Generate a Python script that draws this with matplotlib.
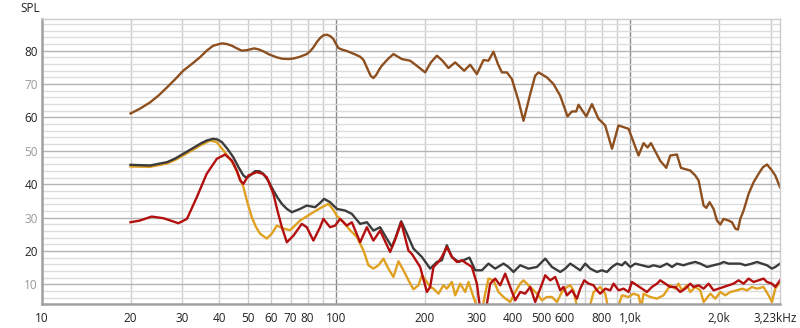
import matplotlib.pyplot as plt
import numpy as np

# --- data (frequency in Hz, level in dB SPL) ---
brown_f = [20.0, 21.5, 23.3, 25.0, 26.6, 28.4, 30.2, 32.3, 34.5, 36.3, 38.2, 40.9, 42.5,
           44.2, 46.0, 47.8, 50.0, 52.6, 54.5, 56.6, 59.5, 62.9, 65.5, 68.8, 72.0, 75.4,
           79.5, 81.5, 83.7, 86.0, 88.2, 90.5, 93.0, 95.4, 97.9, 99.5, 101.8, 105.0,
           108.0, 111.6, 116.0, 120.7, 124.0, 127.2, 131.0, 133.9, 137.0, 140.0, 143.0,
           150.0, 156.6, 167.3, 178.5, 188.0, 200.8, 210.0, 220.1, 230.0, 241.0, 254.0,
           272.5, 285.6, 301.0, 317.0, 329.6, 342.8, 355.0, 366.2, 380.7, 396.0, 417.0,
           433.6, 457.0, 475.0, 487.7, 520.9, 548.5, 578.0, 612.0, 633.5, 655.0, 667.0,
           709.0, 741.0, 780.0, 822.0, 867.0, 912.0, 987.0, 1067, 1110, 1145, 1176, 1265,
           1326, 1368, 1441, 1487, 1540, 1600, 1664, 1708, 1776, 1814, 1861, 1920, 1972,
           2024, 2077, 2160, 2218, 2276, 2325, 2367, 2429, 2526, 2627, 2731, 2827, 2917,
           3033, 3113, 3230]
brown_v = [61.2, 62.6, 64.5, 66.7, 69.0, 71.5, 74.0, 76.0, 78.1, 80.0, 81.5, 82.2, 82.0,
           81.5, 80.7, 80.0, 80.2, 80.7, 80.4, 79.8, 78.8, 78.0, 77.6, 77.5, 77.7, 78.2,
           79.0, 79.8, 81.0, 82.6, 83.8, 84.6, 84.8, 84.4, 83.5, 82.3, 80.8, 80.3,
           80.0, 79.5, 78.9, 78.2, 77.2, 75.0, 72.5, 71.8, 72.8, 74.3, 75.5,
           77.5, 79.0, 77.5, 77.0, 75.5, 73.5, 76.5, 78.5, 77.0, 74.8, 76.5,
           74.0, 75.8, 73.0, 77.2, 77.0, 79.7, 76.0, 73.5, 73.5, 71.5, 65.0,
           59.0, 67.0, 72.5, 73.5, 72.0, 70.0, 66.5, 60.3, 61.8, 61.8, 63.8,
           60.3, 64.0, 59.6, 57.6, 50.6, 57.6, 56.6, 48.6, 52.3, 51.0, 52.3, 47.0,
           44.9, 48.6, 48.9, 44.9, 44.5, 44.1, 42.6, 41.1, 33.6, 32.9, 34.6, 32.6, 29.1,
           27.9, 29.6, 29.1, 28.6, 26.7, 26.4, 29.6, 32.1, 37.1, 40.6, 43.1, 45.1, 45.9,
           44.1, 42.6, 39.1]

gray_f = [20.0, 23.3, 26.6, 28.4, 30.2, 32.3, 34.5, 36.3, 38.2, 39.5, 40.9, 42.7, 44.7,
          46.5, 48.4, 49.7, 51.3, 53.0, 54.8, 56.6, 58.8, 61.2, 63.2, 65.4, 68.0, 70.7,
          75.4, 79.5, 84.8, 88.0, 91.0, 95.4, 100.6, 107.3, 113.1, 120.7, 127.2,
          133.9, 141.1, 148.7, 154.7, 160.0, 166.4, 174.0, 183.2, 195.7, 208.8, 220.1,
          228.8, 237.9, 247.5, 260.6, 271.0, 284.0, 297.0, 313.0, 329.6, 347.4, 370.7,
          385.6, 401.0, 422.6, 450.9, 481.7, 514.0, 541.7, 578.1, 601.2, 625.2, 650.1,
          676.1, 703.1, 731.2, 750.4, 770.5, 801.3, 833.3, 866.7, 901.3, 937.3, 961.6,
          1000, 1040, 1096, 1154, 1200, 1265, 1333, 1387, 1441, 1518, 1578, 1664, 1731,
          1824, 1920, 2024, 2077, 2160, 2246, 2367, 2462, 2594, 2697, 2804, 2917, 3033,
          3113, 3230]
gray_v = [45.8, 45.6, 46.6, 47.7, 49.1, 50.6, 52.1, 53.1, 53.6, 53.4, 52.6, 50.6, 48.1,
          45.2, 42.6, 41.9, 42.8, 43.9, 43.9, 43.1, 41.0, 38.1, 36.0, 34.1, 32.6, 31.6,
          32.6, 33.6, 33.1, 34.3, 35.6, 34.6, 32.6, 32.1, 31.1, 28.1, 28.6,
          26.1, 27.1, 23.7, 21.2, 24.5, 28.9, 25.2, 20.7, 18.2, 14.7, 16.7,
          17.2, 21.7, 18.2, 16.7, 17.2, 18.0, 14.2, 14.2, 16.2, 14.7, 16.2,
          15.2, 13.7, 15.7, 14.7, 15.2, 17.7, 15.2, 13.7, 14.7, 16.2, 15.2,
          14.2, 16.2, 14.7, 14.2, 13.7, 14.2, 13.7, 15.2, 16.2, 15.7, 16.7,
          15.2, 16.2, 15.7, 15.2, 15.7, 15.2, 16.2, 15.2, 16.2, 15.7, 16.2, 16.7, 16.2,
          15.2, 15.7, 16.2, 16.7, 16.2, 16.2, 16.2, 15.7, 16.2, 16.7, 16.2, 15.7, 14.7,
          15.2, 16.2]

orange_f = [20.0, 23.3, 26.6, 28.4, 30.2, 32.3, 34.5, 37.3, 39.3, 41.4, 43.0, 44.7, 46.5,
            48.4, 50.0, 51.7, 53.3, 55.1, 58.1, 60.4, 62.9, 66.2, 69.8, 75.4, 83.7, 89.0,
            94.2, 97.5, 100.6, 105.9, 111.6, 117.6, 123.9, 128.8, 133.9, 139.3, 144.8,
            150.6, 156.6, 162.9, 169.4, 176.2, 183.2, 190.5, 195.7, 203.5, 208.8, 214.3,
            222.8, 231.7, 237.9, 247.5, 254.0, 264.1, 274.7, 281.8, 293.1, 305.0, 313.0,
            321.2, 329.6, 342.8, 356.5, 370.7, 390.7, 406.3, 422.6, 433.6, 457.0, 481.7,
            500.9, 520.9, 541.7, 563.3, 585.8, 609.3, 625.2, 641.5, 660.0, 690.0, 722.0,
            750.4, 790.7, 822.4, 845.0, 900.0, 937.3, 986.8, 1026, 1067, 1090, 1110, 1169,
            1233, 1298, 1368, 1422, 1460, 1499, 1559, 1600, 1664, 1731, 1776, 1872, 1946,
            2024, 2105, 2189, 2307, 2399, 2494, 2594, 2697, 2840, 2953, 3033, 3113, 3230]
orange_v = [45.3, 45.2, 46.2, 47.3, 48.6, 50.1, 51.6, 53.1, 52.6, 50.1, 48.2, 46.1, 42.8,
            39.1, 34.3, 30.1, 27.3, 25.2, 23.7, 25.2, 27.6, 26.7, 26.2, 29.1, 31.6, 33.0,
            34.1, 32.5, 30.5, 28.6, 26.2, 24.2, 20.1, 15.7, 14.7, 15.7, 17.7,
            14.7, 12.2, 16.9, 14.2, 11.2, 8.5, 9.7, 12.7, 10.7, 9.2, 8.7,
            7.2, 9.7, 8.7, 10.7, 6.7, 10.2, 7.7, 10.7, 6.2, 2.0, 2.0,
            7.2, 11.7, 11.2, 7.7, 6.2, 4.7, 7.7, 10.2, 11.2, 9.2, 7.2,
            5.2, 6.2, 6.2, 4.7, 7.7, 9.2, 9.7, 8.2, 3.0, 2.0, 2.0,
            7.7, 9.2, 7.2, 2.0, 2.0, 6.7, 6.2, 7.2, 6.7, 3.0, 7.2, 6.2,
            5.7, 6.7, 9.7, 8.7, 10.2, 8.2, 9.7, 7.7, 9.2, 8.2, 4.7, 7.2, 5.7,
            7.7, 6.7, 7.7, 8.2, 8.7, 8.2, 9.2, 8.7, 9.2, 6.7, 4.7, 8.7, 10.7]

red_f = [20.0, 21.5, 23.6, 25.9, 29.1, 31.1, 33.6, 36.3, 39.3, 41.9, 44.2, 46.0, 47.2,
         48.4, 50.3, 53.7, 56.0, 58.1, 61.2, 63.2, 65.4, 68.0, 71.6, 76.4, 79.5, 83.7,
         88.2, 90.5, 95.4, 99.2, 103.2, 108.7, 113.1, 120.7, 127.2, 133.9, 141.1, 152.6,
         159.0, 166.4, 176.2, 180.9, 193.1, 203.5, 208.8, 214.3, 222.8, 228.8, 237.9,
         247.5, 257.4, 267.6, 278.3, 289.4, 301.0, 310.0, 322.0, 334.1, 347.4, 361.3,
         375.7, 390.7, 406.3, 422.6, 439.4, 457.0, 475.3, 494.2, 514.0, 534.5, 555.9,
         578.1, 593.2, 609.3, 633.5, 658.8, 676.1, 697.6, 721.6, 750.4, 770.5, 790.7,
         822.4, 855.2, 877.6, 912.6, 949.0, 986.8, 1013, 1054, 1096, 1140, 1185, 1233,
         1265, 1315, 1368, 1422, 1479, 1538, 1600, 1642, 1708, 1776, 1847, 1920, 1997,
         2077, 2160, 2246, 2336, 2429, 2526, 2627, 2731, 2840, 2917, 3033, 3113, 3230]
red_v = [28.6, 29.1, 30.3, 29.8, 28.3, 29.6, 36.1, 43.1, 47.6, 48.9, 47.1, 44.0, 41.1,
         40.1, 42.6, 43.6, 43.2, 42.1, 37.1, 32.0, 27.1, 22.6, 24.6, 28.1, 27.1, 23.1,
         27.1, 29.6, 27.1, 27.6, 29.6, 27.6, 28.6, 22.6, 27.1, 23.1, 26.1, 19.7,
         23.5, 28.6, 20.1, 19.1, 15.2, 7.7, 9.2, 15.2, 16.7, 18.2, 21.2,
         18.2, 16.7, 17.2, 16.2, 15.2, 10.2, 1.5, 1.5, 10.2, 11.7, 9.7,
         13.2, 9.2, 5.2, 7.7, 7.2, 9.2, 4.7, 8.7, 12.7, 11.2, 12.2,
         8.2, 9.2, 6.7, 8.2, 5.7, 8.7, 11.2, 10.2, 9.7, 8.2, 7.2,
         8.7, 8.2, 10.2, 8.2, 8.7, 7.7, 10.7, 9.7, 8.7, 7.7, 9.2, 10.2,
         11.2, 10.2, 9.2, 9.2, 7.7, 8.7, 10.2, 9.2, 9.7, 8.7, 10.2, 8.2, 8.7,
         9.2, 9.7, 10.2, 11.2, 10.2, 11.7, 10.7, 11.2, 11.7, 10.7, 10.2, 9.2, 11.2]

xtick_pos = [10, 20, 30, 40, 50, 60, 70, 80, 100, 200, 300, 400, 500, 600, 800, 1000, 2000]
xtick_lab = ['10', '20', '30', '40', '50', '60', '70', '80', '100', '200', '300',
             '400', '500', '600', '800', '1,0k', '2,0k']
ytick_pos = [10, 20, 30, 40, 50, 60, 70, 80]

plt.rcParams['font.family'] = ['Open Sans', 'DejaVu Sans']

fig = plt.figure(figsize=(8, 3.28), dpi=100)
ax = fig.add_axes([42 / 800, 24 / 328, 738 / 800, 285 / 328])

# grid
vlines = list(range(20, 100, 10)) + list(range(200, 1000, 100)) + [2000, 3000]
for v in vlines:
    ax.axvline(v, color='#cccccc', lw=1.0, zorder=0)
for v in [100, 1000]:
    ax.axvline(v, color='#8a8a8a', lw=1.0, zorder=0)
for h in np.arange(6, 90, 2):
    c = '#b4b4b4' if h % 10 == 0 else '#dcdcdc'
    ax.axhline(h, color=c, lw=1.0, zorder=0)

ax.plot(brown_f, brown_v, color='#8e4f1f', lw=1.7)
ax.plot(orange_f, orange_v, color='#e0a020', lw=1.7)
ax.plot(gray_f, gray_v, color='#3c3c3c', lw=1.7)
ax.plot(red_f, red_v, color='#b40f0f', lw=1.7)

ax.set_xscale('log')
ax.set_xlim(10, 3230)
ax.set_ylim(4.1, 89.5)

ax.xaxis.set_minor_locator(plt.NullLocator())
ax.set_xticks(xtick_pos)
ax.set_xticklabels(xtick_lab)
ax.set_yticks(ytick_pos)
ax.set_yticklabels([str(v) for v in ytick_pos])
ax.tick_params(axis='both', length=0, labelsize=8.5, colors='#222222')
ax.tick_params(axis='x', pad=6)
ax.tick_params(axis='y', pad=3)
for lab, v in zip(ax.get_yticklabels(), ytick_pos):
    lab.set_color('#222222' if v % 20 == 0 else '#999999')

for s in ['top', 'right']:
    ax.spines[s].set_color('#cccccc')
    ax.spines[s].set_linewidth(1.0)
for s in ['left', 'bottom']:
    ax.spines[s].set_color('#a0a0a0')
    ax.spines[s].set_linewidth(1.8)

fig.text(797 / 800, 1 - 318 / 328, '3,23kHz', ha='right', va='center',
         fontsize=8.5, color='#222222')
fig.text(20 / 800, 1 - 9 / 328, 'SPL', ha='left', va='center', fontsize=8.5, color='#222222')

fig.savefig('out.png', dpi=100, facecolor='white')
